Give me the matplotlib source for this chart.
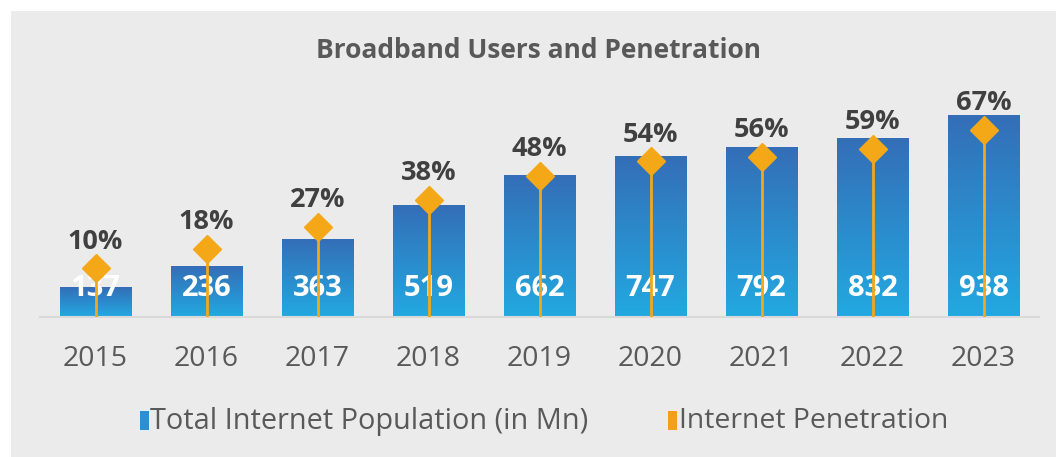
import numpy as np
import matplotlib.pyplot as plt
from matplotlib.patches import Rectangle
from matplotlib.colors import LinearSegmentedColormap

plt.rcParams['font.family'] = ['Open Sans', 'DejaVu Sans']

# data
years = ['2015', '2016', '2017', '2018', '2019', '2020', '2021', '2022', '2023']
users = [137, 236, 363, 519, 662, 747, 792, 832, 938]          # Mn
penetration = [10, 18, 27, 38, 48, 54, 56, 59, 67]              # %

bg = '#EBEBEB'
orange = '#F5A817'
grad = LinearSegmentedColormap.from_list('bar', ['#22A9E1', '#346EB7'])

fig = plt.figure(figsize=(10.56, 4.57), dpi=100)
fig.patch.set_facecolor('white')
fig.patches.append(Rectangle((11 / 1056, 0), 1, 1 - 11 / 457, transform=fig.transFigure,
                             facecolor=bg, edgecolor='none', zorder=-5))

# axes: x from 40 to 1039 px, y baseline at 317 px, top at 90 px
ax = fig.add_axes([40 / 1056, 1 - 317 / 457, 999 / 1056, 227 / 457])
ax.set_facecolor('none')
x = np.arange(len(years))
w = 0.64
ymax = 227 / 0.2143
ax.set_xlim(-0.5, len(years) - 0.5)
ax.set_ylim(0, ymax)

# gradient bars
g = np.linspace(0, 1, 256).reshape(-1, 1)
for xi, v in zip(x, users):
    ax.imshow(g, cmap=grad, origin='lower', aspect='auto',
              extent=(xi - w / 2, xi + w / 2, 0, v), zorder=2)
    ax.text(xi, 29 / 0.2143, str(v), ha='center', va='center', color='white',
            fontsize=21, fontweight='bold', zorder=5)

for s in ['top', 'right', 'left']:
    ax.spines[s].set_visible(False)
ax.spines['bottom'].set_color('#D9D9D9')
ax.spines['bottom'].set_linewidth(1.5)
ax.set_yticks([])
ax.set_xticks(x)
ax.set_xticklabels(years, fontsize=20.5, color='#595959')
ax.tick_params(axis='x', length=0, pad=20)

# secondary axis for penetration
ax2 = ax.twinx()
lo = -10
ax2.set_ylim(lo, lo + 227 / 2.43)
ax2.axis('off')
ax2.vlines(x, lo, penetration, color=orange, linewidth=2, zorder=3)
ax2.plot(x, penetration, linestyle='none', marker='D', markersize=14,
         color=orange, zorder=4)
for xi, p in zip(x, penetration):
    ax2.annotate(f'{p}%', (xi, p), xytext=(0, 10), textcoords='offset points',
                 ha='center', va='bottom', fontsize=19.5, fontweight='bold',
                 color='#404040', zorder=5)

fig.text(538 / 1056, 1 - 51 / 457, 'Broadband Users and Penetration', ha='center',
         va='center', fontsize=19, fontweight='bold', color='#595959')

# legend
lx = 140 / 1056
ly = 1 - 421 / 457
fig.patches.append(Rectangle((lx, ly - 9 / 457), 9 / 1056, 19 / 457,
                             transform=fig.transFigure, facecolor='#2B8FD0'))
fig.text(lx + 10 / 1056, ly, 'Total Internet Population (in Mn)', va='center',
         fontsize=20.8, color='#595959')
ox = 668 / 1056
fig.patches.append(Rectangle((ox, ly - 9 / 457), 9 / 1056, 19 / 457,
                             transform=fig.transFigure, facecolor='#F0A01A'))
fig.text(ox + 11 / 1056, ly, 'Internet Penetration', va='center',
         fontsize=20.4, color='#595959')

fig.savefig('out.png', dpi=100, facecolor=fig.get_facecolor())
